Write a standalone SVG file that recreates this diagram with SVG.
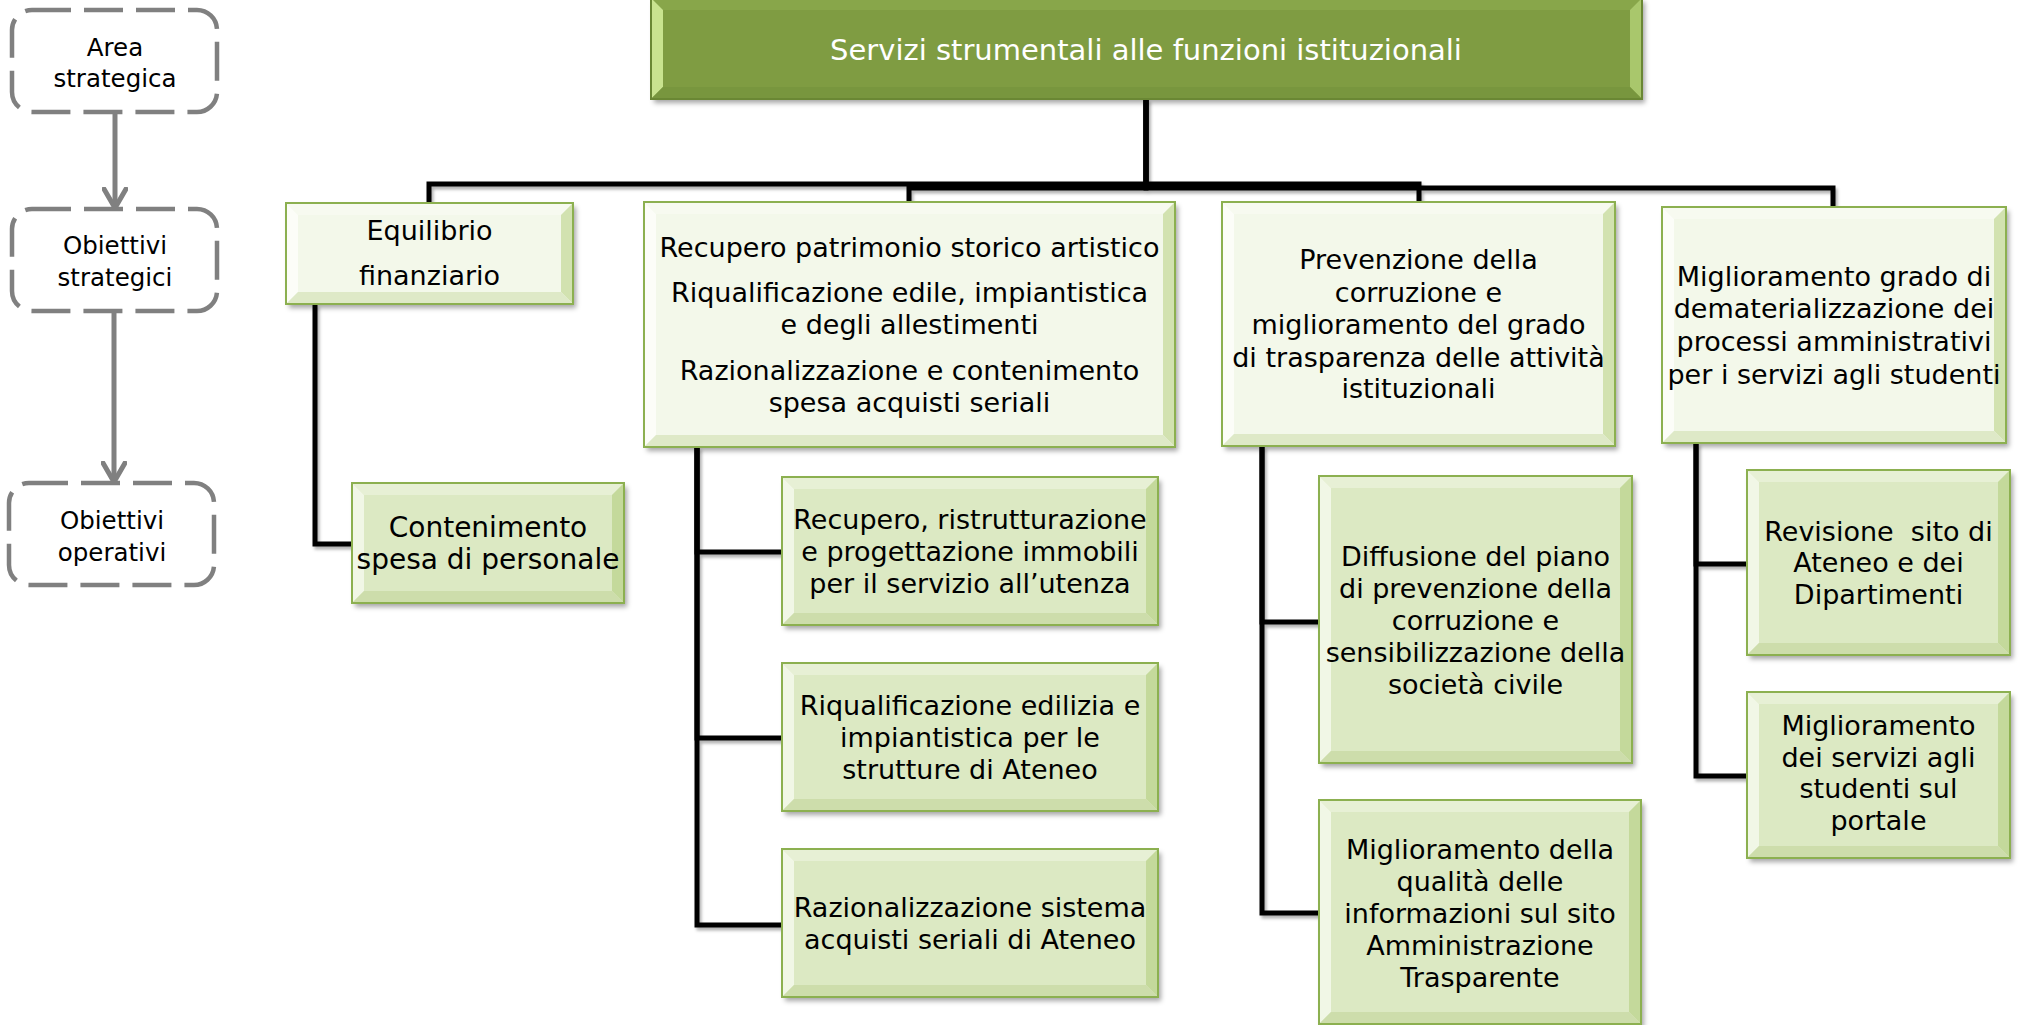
<svg xmlns="http://www.w3.org/2000/svg" width="2020" height="1025" viewBox="0 0 2020 1025">
<defs>
<filter id="sh" x="-5%" y="-5%" width="115%" height="125%"><feDropShadow dx="3" dy="4" stdDeviation="2.5" flood-color="#000" flood-opacity="0.35"/></filter>
<filter id="lsh" x="-5%" y="-5%" width="110%" height="115%"><feDropShadow dx="2" dy="3" stdDeviation="1.5" flood-color="#000" flood-opacity="0.3"/></filter>
<marker id="chev" markerUnits="userSpaceOnUse" viewBox="0 0 26 24" refX="13" refY="21" markerWidth="26" markerHeight="24" orient="0">
<path d="M2,2 L13,21 L24,2" fill="none" stroke="#808080" stroke-width="5" stroke-linejoin="round" stroke-linecap="round"/>
</marker>
</defs>
<style>
text{font-family:"DejaVu Sans","Liberation Sans",sans-serif;text-anchor:middle;fill:#000;font-size:27px}
.lg{fill:#fff;stroke:#808080;stroke-width:4.5;stroke-dasharray:39 13}
.lt{font-size:24.5px}
.ar{fill:none;stroke:#808080;stroke-width:5}
.cn{fill:none;stroke:#000;stroke-width:5}
.bd{fill:none;stroke:#8CB050;stroke-width:2}
.a .f{fill:#F3F8EA}.a .ft{fill:#F7FAF0}.a .fl{fill:#FCFDF8}.a .fr{fill:#D2E2B0}.a .fb{fill:#DEE9C7}
.b .f{fill:#DCE9C3}.b .ft{fill:#E7F0D5}.b .fl{fill:#F1F7E6}.b .fr{fill:#C4D99B}.b .fb{fill:#CDDDAB}
.c .f{fill:#7F9C43}.c .ft{fill:#88A64A}.c .fl{fill:#C9E38F}.c .fr{fill:#A9C76C}.c .fb{fill:#78963E}
.c .bd{stroke:#6A8734}
.c text{fill:#fff;font-size:29px}
.pre{white-space:pre}
</style>

<g id="legend-area">
<rect class="lg" x="12" y="10" width="205" height="102" rx="20"/>
<text class="lt" x="115" y="56">Area</text>
<text class="lt" x="115" y="87">strategica</text>
</g>
<g id="legend-strategici">
<rect class="lg" x="12" y="209" width="205" height="102" rx="20"/>
<text class="lt" x="115" y="254">Obiettivi</text>
<text class="lt" x="115" y="286">strategici</text>
</g>
<g id="legend-operativi">
<rect class="lg" x="9" y="483" width="205" height="102" rx="20"/>
<text class="lt" x="112" y="529">Obiettivi</text>
<text class="lt" x="112" y="561">operativi</text>
</g>
<g id="legend-arrows">
<path class="ar" d="M115,112 V208" marker-end="url(#chev)"/>
<path class="ar" d="M114,311 V482" marker-end="url(#chev)"/>
</g>

<g id="connectors" filter="url(#lsh)">
<path class="cn" d="M1146,99 V184 H429 V203"/>
<path class="cn" d="M1146,99 V188 H909 V202"/>
<path class="cn" d="M1146,99 V184 H1419 V202"/>
<path class="cn" d="M1146,99 V188 H1833 V207"/>
<path class="cn" d="M315,304 V544 H352"/>
<path class="cn" d="M697,447 V552 H782"/>
<path class="cn" d="M697,447 V738 H782"/>
<path class="cn" d="M697,447 V925 H782"/>
<path class="cn" d="M1262,446 V622 H1319"/>
<path class="cn" d="M1262,446 V913 H1319"/>
<path class="cn" d="M1696,443 V564 H1747"/>
<path class="cn" d="M1696,443 V776 H1747"/>
</g>

<g id="n-root" class="c">
<rect class="f" x="651" y="-2" width="991" height="101" filter="url(#sh)"/>
<polygon class="ft" points="651,-2 1642,-2 1630,10 663,10"/>
<polygon class="fl" points="651,-2 663,10 663,87 651,99"/>
<polygon class="fr" points="1642,-2 1642,99 1630,87 1630,10"/>
<polygon class="fb" points="651,99 1642,99 1630,87 663,87"/>
<rect class="bd" x="651" y="-2" width="991" height="101"/>
<text x="1146" y="60">Servizi strumentali alle funzioni istituzionali</text>
</g>

<g id="n-equilibrio" class="a">
<rect class="f" x="286" y="203" width="287" height="101" filter="url(#sh)"/>
<polygon class="ft" points="286,203 573,203 561,215 298,215"/>
<polygon class="fl" points="286,203 298,215 298,292 286,304"/>
<polygon class="fr" points="573,203 573,304 561,292 561,215"/>
<polygon class="fb" points="286,304 573,304 561,292 298,292"/>
<rect class="bd" x="286" y="203" width="287" height="101"/>
<text x="429.5" y="240">Equilibrio</text>
<text x="429.5" y="285">finanziario</text>
</g>

<g id="n-recupero" class="a">
<rect class="f" x="644" y="202" width="531" height="245" filter="url(#sh)"/>
<polygon class="ft" points="644,202 1175,202 1163,214 656,214"/>
<polygon class="fl" points="644,202 656,214 656,435 644,447"/>
<polygon class="fr" points="1175,202 1175,447 1163,435 1163,214"/>
<polygon class="fb" points="644,447 1175,447 1163,435 656,435"/>
<rect class="bd" x="644" y="202" width="531" height="245"/>
<text x="909.5" y="257">Recupero patrimonio storico artistico</text>
<text x="909.5" y="302">Riqualificazione edile, impiantistica</text>
<text x="909.5" y="334">e degli allestimenti</text>
<text x="909.5" y="380">Razionalizzazione e contenimento</text>
<text x="909.5" y="412">spesa acquisti seriali</text>
</g>

<g id="n-prevenzione" class="a">
<rect class="f" x="1222" y="202" width="393" height="244" filter="url(#sh)"/>
<polygon class="ft" points="1222,202 1615,202 1603,214 1234,214"/>
<polygon class="fl" points="1222,202 1234,214 1234,434 1222,446"/>
<polygon class="fr" points="1615,202 1615,446 1603,434 1603,214"/>
<polygon class="fb" points="1222,446 1615,446 1603,434 1234,434"/>
<rect class="bd" x="1222" y="202" width="393" height="244"/>
<text x="1418.5" y="269">Prevenzione della</text>
<text x="1418.5" y="302">corruzione e</text>
<text x="1418.5" y="334">miglioramento del grado</text>
<text x="1418.5" y="367">di trasparenza delle attività</text>
<text x="1418.5" y="398">istituzionali</text>
</g>

<g id="n-dematerializzazione" class="a">
<rect class="f" x="1662" y="207" width="344" height="236" filter="url(#sh)"/>
<polygon class="ft" points="1662,207 2006,207 1994,219 1674,219"/>
<polygon class="fl" points="1662,207 1674,219 1674,431 1662,443"/>
<polygon class="fr" points="2006,207 2006,443 1994,431 1994,219"/>
<polygon class="fb" points="1662,443 2006,443 1994,431 1674,431"/>
<rect class="bd" x="1662" y="207" width="344" height="236"/>
<text x="1834" y="286">Miglioramento grado di</text>
<text x="1834" y="318">dematerializzazione dei</text>
<text x="1834" y="351">processi amministrativi</text>
<text x="1834" y="384">per i servizi agli studenti</text>
</g>

<g id="n-contenimento" class="b">
<rect class="f" x="352" y="483" width="272" height="120" filter="url(#sh)"/>
<polygon class="ft" points="352,483 624,483 612,495 364,495"/>
<polygon class="fl" points="352,483 364,495 364,591 352,603"/>
<polygon class="fr" points="624,483 624,603 612,591 612,495"/>
<polygon class="fb" points="352,603 624,603 612,591 364,591"/>
<rect class="bd" x="352" y="483" width="272" height="120"/>
<text x="488" y="537" style="font-size:28px">Contenimento</text>
<text x="488" y="569" style="font-size:28px">spesa di personale</text>
</g>

<g id="n-recupero-immobili" class="b">
<rect class="f" x="782" y="477" width="376" height="148" filter="url(#sh)"/>
<polygon class="ft" points="782,477 1158,477 1146,489 794,489"/>
<polygon class="fl" points="782,477 794,489 794,613 782,625"/>
<polygon class="fr" points="1158,477 1158,625 1146,613 1146,489"/>
<polygon class="fb" points="782,625 1158,625 1146,613 794,613"/>
<rect class="bd" x="782" y="477" width="376" height="148"/>
<text x="970" y="529">Recupero, ristrutturazione</text>
<text x="970" y="561">e progettazione immobili</text>
<text x="970" y="593">per il servizio all’utenza</text>
</g>

<g id="n-riqualificazione" class="b">
<rect class="f" x="782" y="663" width="376" height="148" filter="url(#sh)"/>
<polygon class="ft" points="782,663 1158,663 1146,675 794,675"/>
<polygon class="fl" points="782,663 794,675 794,799 782,811"/>
<polygon class="fr" points="1158,663 1158,811 1146,799 1146,675"/>
<polygon class="fb" points="782,811 1158,811 1146,799 794,799"/>
<rect class="bd" x="782" y="663" width="376" height="148"/>
<text x="970" y="715">Riqualificazione edilizia e</text>
<text x="970" y="747">impiantistica per le</text>
<text x="970" y="779">strutture di Ateneo</text>
</g>

<g id="n-acquisti" class="b">
<rect class="f" x="782" y="849" width="376" height="148" filter="url(#sh)"/>
<polygon class="ft" points="782,849 1158,849 1146,861 794,861"/>
<polygon class="fl" points="782,849 794,861 794,985 782,997"/>
<polygon class="fr" points="1158,849 1158,997 1146,985 1146,861"/>
<polygon class="fb" points="782,997 1158,997 1146,985 794,985"/>
<rect class="bd" x="782" y="849" width="376" height="148"/>
<text x="970" y="917">Razionalizzazione sistema</text>
<text x="970" y="949">acquisti seriali di Ateneo</text>
</g>

<g id="n-diffusione" class="b">
<rect class="f" x="1319" y="476" width="313" height="287" filter="url(#sh)"/>
<polygon class="ft" points="1319,476 1632,476 1620,488 1331,488"/>
<polygon class="fl" points="1319,476 1331,488 1331,751 1319,763"/>
<polygon class="fr" points="1632,476 1632,763 1620,751 1620,488"/>
<polygon class="fb" points="1319,763 1632,763 1620,751 1331,751"/>
<rect class="bd" x="1319" y="476" width="313" height="287"/>
<text x="1475.5" y="566">Diffusione del piano</text>
<text x="1475.5" y="598">di prevenzione della</text>
<text x="1475.5" y="630">corruzione e</text>
<text x="1475.5" y="662">sensibilizzazione della</text>
<text x="1475.5" y="694">società civile</text>
</g>

<g id="n-trasparente" class="b">
<rect class="f" x="1319" y="800" width="322" height="224" filter="url(#sh)"/>
<polygon class="ft" points="1319,800 1641,800 1629,812 1331,812"/>
<polygon class="fl" points="1319,800 1331,812 1331,1012 1319,1024"/>
<polygon class="fr" points="1641,800 1641,1024 1629,1012 1629,812"/>
<polygon class="fb" points="1319,1024 1641,1024 1629,1012 1331,1012"/>
<rect class="bd" x="1319" y="800" width="322" height="224"/>
<text x="1480" y="859">Miglioramento della</text>
<text x="1480" y="891">qualità delle</text>
<text x="1480" y="923">informazioni sul sito</text>
<text x="1480" y="955">Amministrazione</text>
<text x="1480" y="987">Trasparente</text>
</g>

<g id="n-revisione" class="b">
<rect class="f" x="1747" y="470" width="263" height="185" filter="url(#sh)"/>
<polygon class="ft" points="1747,470 2010,470 1998,482 1759,482"/>
<polygon class="fl" points="1747,470 1759,482 1759,643 1747,655"/>
<polygon class="fr" points="2010,470 2010,655 1998,643 1998,482"/>
<polygon class="fb" points="1747,655 2010,655 1998,643 1759,643"/>
<rect class="bd" x="1747" y="470" width="263" height="185"/>
<text class="pre" x="1878.5" y="541">Revisione  sito di</text>
<text x="1878.5" y="572">Ateneo e dei</text>
<text x="1878.5" y="604">Dipartimenti</text>
</g>

<g id="n-portale" class="b">
<rect class="f" x="1747" y="692" width="263" height="166" filter="url(#sh)"/>
<polygon class="ft" points="1747,692 2010,692 1998,704 1759,704"/>
<polygon class="fl" points="1747,692 1759,704 1759,846 1747,858"/>
<polygon class="fr" points="2010,692 2010,858 1998,846 1998,704"/>
<polygon class="fb" points="1747,858 2010,858 1998,846 1759,846"/>
<rect class="bd" x="1747" y="692" width="263" height="166"/>
<text x="1878.5" y="735">Miglioramento</text>
<text x="1878.5" y="767">dei servizi agli</text>
<text x="1878.5" y="798">studenti sul</text>
<text x="1878.5" y="830">portale</text>
</g>
</svg>
